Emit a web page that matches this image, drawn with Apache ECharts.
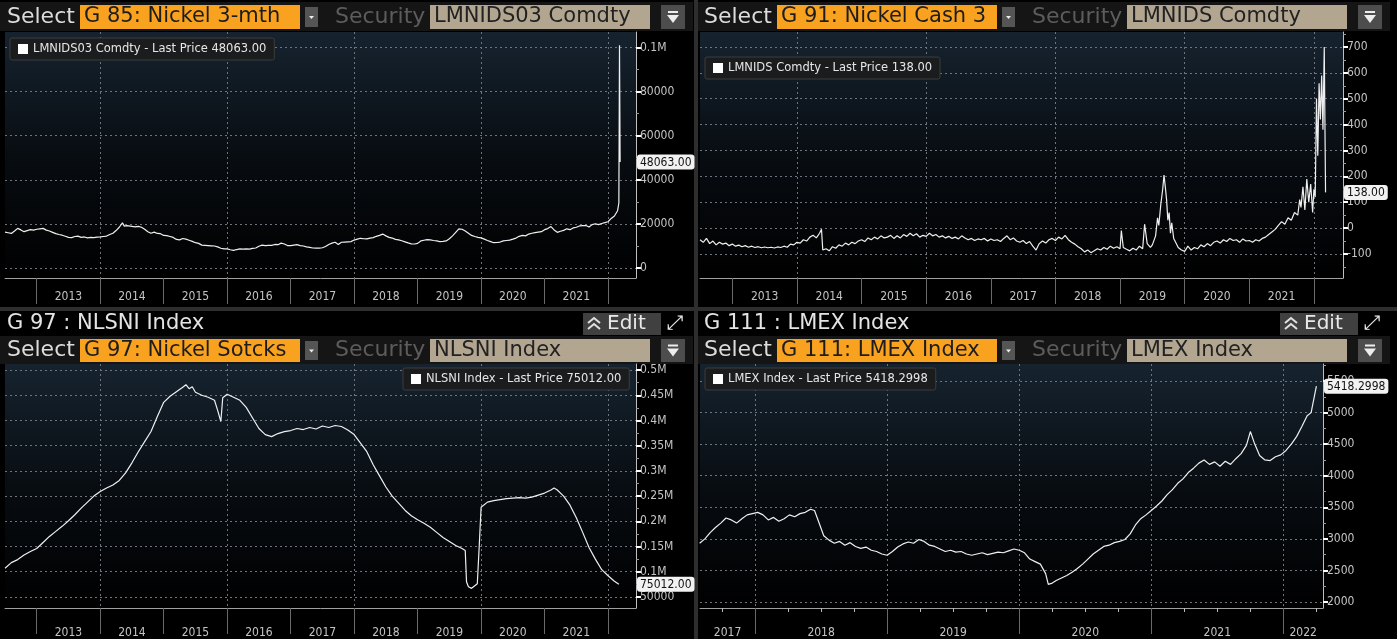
<!DOCTYPE html>
<html>
<head>
<meta charset="utf-8">
<script src="https://cdn.jsdelivr.net/npm/echarts@6/dist/echarts.min.js"></script>
<style>
html, body { margin: 0; padding: 0; background: #000; }
#chart { width: 1397px; height: 639px; }
</style>
</head>
<body>
<div id="chart"></div>
<script>
// 数据 (decimal year, value)
const nickel3mth = [
  [2012.50,16300],[2012.55,16000],[2012.60,15700],[2012.65,16800],[2012.70,18000],[2012.75,17300],[2012.80,16500],[2012.85,17000],
  [2012.90,17400],[2012.95,17200],[2013.00,17600],[2013.05,17800],[2013.10,18000],[2013.15,17200],[2013.20,16800],[2013.25,16200],
  [2013.30,15600],[2013.35,15200],[2013.40,14900],[2013.45,14400],[2013.50,13900],[2013.55,13800],[2013.60,14300],[2013.65,14500],
  [2013.70,13900],[2013.75,14100],[2013.80,13700],[2013.85,13900],[2013.90,13800],[2013.95,14000],[2014.00,14100],[2014.05,14300],
  [2014.10,14500],[2014.15,15200],[2014.20,15800],[2014.25,17000],[2014.30,18500],[2014.35,20500],[2014.38,19000],[2014.42,19200],
  [2014.45,18800],[2014.50,18900],[2014.55,18700],[2014.60,18900],[2014.65,18500],[2014.70,17600],[2014.75,16500],[2014.80,15800],
  [2014.85,16300],[2014.90,15700],[2014.95,15600],[2015.00,14800],[2015.05,14700],[2015.10,14300],[2015.15,13900],[2015.20,13000],
  [2015.25,12800],[2015.30,13400],[2015.35,13100],[2015.40,12600],[2015.45,12100],[2015.50,11500],[2015.55,11200],[2015.60,10400],
  [2015.65,10300],[2015.70,10200],[2015.75,10100],[2015.80,10000],[2015.85,9600],[2015.90,9000],[2015.95,8700],[2016.00,8700],
  [2016.05,8300],[2016.10,8000],[2016.15,8400],[2016.20,8700],[2016.25,8600],[2016.30,8700],[2016.35,8600],[2016.40,8900],
  [2016.45,9100],[2016.50,9900],[2016.55,10400],[2016.60,10200],[2016.65,10300],[2016.70,10300],[2016.75,10700],[2016.80,10600],
  [2016.85,11300],[2016.90,10900],[2016.95,10200],[2017.00,10200],[2017.05,10400],[2017.10,10600],[2017.15,10200],[2017.20,10000],
  [2017.25,9600],[2017.30,9400],[2017.35,9100],[2017.40,9000],[2017.45,9000],[2017.50,9200],[2017.55,9800],[2017.60,10700],
  [2017.65,11300],[2017.70,11700],[2017.75,10700],[2017.80,11700],[2017.85,11800],[2017.90,11900],[2017.95,12000],[2018.00,12700],
  [2018.05,13100],[2018.10,13500],[2018.15,13300],[2018.20,13200],[2018.25,13600],[2018.30,13800],[2018.35,14400],[2018.40,14800],
  [2018.45,15400],[2018.50,14600],[2018.55,13900],[2018.60,13600],[2018.65,13000],[2018.70,12800],[2018.75,12400],[2018.80,11900],
  [2018.85,11400],[2018.90,11000],[2018.95,10900],[2019.00,11200],[2019.05,12300],[2019.10,12600],[2019.15,12900],[2019.20,12800],
  [2019.25,12500],[2019.30,12300],[2019.35,12000],[2019.40,12100],[2019.45,12300],[2019.50,13300],[2019.55,14600],[2019.60,16200],
  [2019.65,17800],[2019.70,17600],[2019.75,16800],[2019.80,15800],[2019.85,14800],[2019.90,14300],[2019.95,13900],[2020.00,13700],
  [2020.05,13100],[2020.10,12500],[2020.15,12000],[2020.20,11500],[2020.25,11600],[2020.30,11800],[2020.35,12300],[2020.40,12500],
  [2020.45,12700],[2020.50,13100],[2020.55,13600],[2020.60,14400],[2020.65,14800],[2020.70,14600],[2020.75,15400],[2020.80,15800],
  [2020.85,16100],[2020.90,16300],[2020.95,16500],[2021.00,17400],[2021.05,17900],[2021.10,18800],[2021.15,17300],[2021.20,16200],
  [2021.25,16700],[2021.30,17100],[2021.35,17800],[2021.40,17400],[2021.45,18200],[2021.50,18500],[2021.55,19100],[2021.60,19200],
  [2021.65,19300],[2021.70,18600],[2021.75,19700],[2021.80,20100],[2021.85,19700],[2021.90,20200],[2021.95,20600],[2022.00,21000],
  [2022.05,22500],[2022.10,23600],[2022.13,24000],[2022.15,26000],[2022.17,29500],[2022.18,101000],[2022.19,48063]
];

const nickelCash3m = [
  [2012.50,-45],[2012.55,-55],[2012.60,-40],[2012.65,-60],[2012.70,-50],[2012.75,-65],[2012.80,-55],[2012.85,-62],
  [2012.90,-58],[2012.95,-68],[2013.00,-62],[2013.05,-70],[2013.10,-66],[2013.15,-72],[2013.20,-68],[2013.25,-74],
  [2013.30,-70],[2013.35,-75],[2013.40,-72],[2013.45,-76],[2013.50,-73],[2013.55,-76],[2013.60,-74],[2013.65,-77],
  [2013.70,-73],[2013.75,-75],[2013.80,-70],[2013.85,-74],[2013.90,-62],[2013.95,-65],[2014.00,-55],[2014.05,-58],
  [2014.10,-45],[2014.15,-50],[2014.20,-35],[2014.25,-28],[2014.30,-38],[2014.35,-20],[2014.38,-5],[2014.40,-85],
  [2014.45,-80],[2014.50,-88],[2014.55,-72],[2014.60,-78],[2014.65,-65],[2014.70,-70],[2014.75,-58],[2014.80,-65],
  [2014.85,-55],[2014.90,-60],[2014.95,-50],[2015.00,-45],[2015.05,-52],[2015.10,-38],[2015.15,-45],[2015.20,-35],
  [2015.25,-42],[2015.30,-30],[2015.35,-38],[2015.40,-35],[2015.45,-28],[2015.50,-40],[2015.55,-30],[2015.60,-38],
  [2015.65,-25],[2015.70,-32],[2015.75,-20],[2015.80,-30],[2015.85,-22],[2015.90,-35],[2015.95,-28],[2016.00,-32],
  [2016.05,-20],[2016.10,-30],[2016.15,-25],[2016.20,-35],[2016.25,-30],[2016.30,-38],[2016.35,-32],[2016.40,-40],
  [2016.45,-35],[2016.50,-42],[2016.55,-30],[2016.60,-38],[2016.65,-45],[2016.70,-40],[2016.75,-48],[2016.80,-42],
  [2016.85,-45],[2016.90,-40],[2016.95,-50],[2017.00,-42],[2017.05,-48],[2017.10,-45],[2017.15,-52],[2017.20,-40],
  [2017.25,-30],[2017.30,-45],[2017.35,-38],[2017.40,-50],[2017.45,-55],[2017.50,-48],[2017.55,-60],[2017.60,-52],
  [2017.65,-70],[2017.70,-85],[2017.75,-60],[2017.80,-50],[2017.85,-58],[2017.90,-45],[2017.95,-40],[2018.00,-48],
  [2018.05,-35],[2018.10,-42],[2018.15,-28],[2018.20,-45],[2018.25,-55],[2018.30,-62],[2018.35,-72],[2018.40,-80],
  [2018.45,-92],[2018.50,-85],[2018.55,-95],[2018.60,-88],[2018.65,-80],[2018.70,-85],[2018.75,-75],[2018.80,-82],
  [2018.85,-70],[2018.90,-78],[2018.95,-72],[2019.00,-80],[2019.02,-10],[2019.05,-75],[2019.10,-82],[2019.15,-88],
  [2019.20,-78],[2019.25,-85],[2019.30,-70],[2019.35,-80],[2019.38,15],[2019.42,-60],[2019.47,-75],[2019.50,-65],
  [2019.55,-30],[2019.58,40],[2019.60,10],[2019.63,90],[2019.66,150],[2019.68,205],[2019.70,160],[2019.72,110],
  [2019.74,30],[2019.76,60],[2019.78,-20],[2019.80,20],[2019.83,-40],[2019.86,-55],[2019.90,-75],[2019.95,-85],
  [2020.00,-90],[2020.05,-70],[2020.10,-85],[2020.15,-75],[2020.20,-80],[2020.25,-65],[2020.30,-72],[2020.35,-60],
  [2020.40,-68],[2020.45,-55],[2020.50,-50],[2020.55,-58],[2020.60,-45],[2020.65,-52],[2020.70,-40],[2020.75,-48],
  [2020.80,-45],[2020.85,-55],[2020.90,-42],[2020.95,-50],[2021.00,-48],[2021.05,-55],[2021.10,-45],[2021.15,-50],
  [2021.20,-40],[2021.25,-35],[2021.30,-25],[2021.35,-15],[2021.40,-5],[2021.45,10],[2021.50,25],[2021.55,15],
  [2021.60,40],[2021.65,30],[2021.70,60],[2021.75,50],[2021.78,110],[2021.80,80],[2021.83,160],[2021.86,70],
  [2021.89,190],[2021.92,100],[2021.95,170],[2021.98,60],[2022.00,150],[2022.02,120],[2022.04,500],[2022.06,280],
  [2022.08,560],[2022.10,420],[2022.12,590],[2022.14,380],[2022.16,700],[2022.18,138]
];

const nickelStocks = [
  [2012.50,107000],[2012.60,118000],[2012.70,124000],[2012.80,133000],[2012.90,140000],[2013.00,146000],[2013.10,158000],
  [2013.20,170000],[2013.30,180000],[2013.40,190000],[2013.50,201000],[2013.60,213000],[2013.70,226000],[2013.80,238000],
  [2013.90,250000],[2014.00,259000],[2014.10,266000],[2014.20,272000],[2014.30,281000],[2014.40,296000],[2014.50,316000],
  [2014.60,338000],[2014.70,358000],[2014.80,378000],[2014.90,408000],[2015.00,436000],[2015.10,448000],[2015.20,457000],
  [2015.30,466000],[2015.35,471000],[2015.40,463000],[2015.45,467000],[2015.50,456000],[2015.60,450000],[2015.70,446000],
  [2015.80,440000],[2015.85,420000],[2015.90,398000],[2015.93,445000],[2016.00,452000],[2016.10,446000],[2016.20,440000],
  [2016.30,426000],[2016.40,405000],[2016.50,384000],[2016.60,372000],[2016.70,368000],[2016.80,374000],[2016.90,378000],
  [2017.00,380000],[2017.10,384000],[2017.20,382000],[2017.30,386000],[2017.40,383000],[2017.50,389000],[2017.60,386000],
  [2017.70,390000],[2017.80,388000],[2017.90,381000],[2018.00,372000],[2018.10,355000],[2018.20,338000],[2018.30,312000],
  [2018.40,290000],[2018.50,268000],[2018.60,250000],[2018.70,236000],[2018.80,222000],[2018.90,211000],[2019.00,203000],
  [2019.10,196000],[2019.20,188000],[2019.30,178000],[2019.40,168000],[2019.50,160000],[2019.60,152000],[2019.70,146000],
  [2019.75,142000],[2019.77,80000],[2019.80,70000],[2019.85,67000],[2019.90,72000],[2019.94,76000],[2019.97,150000],
  [2020.00,228000],[2020.10,238000],[2020.20,241000],[2020.30,243000],[2020.40,245000],[2020.50,246000],[2020.60,247000],
  [2020.70,246000],[2020.80,248000],[2020.90,252000],[2021.00,256000],[2021.10,262000],[2021.15,266000],[2021.20,262000],
  [2021.30,250000],[2021.40,232000],[2021.50,207000],[2021.60,178000],[2021.70,148000],[2021.80,125000],[2021.90,104000],
  [2022.00,92000],[2022.10,81000],[2022.17,75012]
];

const lmexIndex = [
  [2017.58,2930],[2017.62,3000],[2017.66,3100],[2017.70,3180],[2017.74,3250],[2017.78,3330],[2017.82,3300],[2017.86,3250],
  [2017.90,3320],[2017.94,3380],[2017.98,3400],[2018.02,3420],[2018.06,3380],[2018.10,3300],[2018.14,3340],[2018.18,3280],
  [2018.22,3320],[2018.26,3380],[2018.30,3350],[2018.34,3400],[2018.38,3420],[2018.42,3470],[2018.45,3450],[2018.48,3280],
  [2018.52,3050],[2018.56,2980],[2018.60,2930],[2018.64,2960],[2018.68,2900],[2018.72,2940],[2018.76,2880],[2018.80,2850],
  [2018.84,2870],[2018.88,2820],[2018.92,2800],[2018.96,2760],[2019.00,2740],[2019.04,2800],[2019.08,2870],[2019.12,2920],
  [2019.16,2950],[2019.20,2930],[2019.24,2990],[2019.28,2960],[2019.32,2900],[2019.36,2880],[2019.40,2840],[2019.44,2800],
  [2019.48,2820],[2019.52,2790],[2019.56,2800],[2019.60,2760],[2019.64,2740],[2019.68,2760],[2019.72,2780],[2019.76,2750],
  [2019.80,2770],[2019.84,2790],[2019.88,2780],[2019.92,2810],[2019.96,2840],[2020.00,2820],[2020.04,2780],[2020.08,2680],
  [2020.12,2640],[2020.16,2600],[2020.20,2450],[2020.22,2280],[2020.25,2300],[2020.28,2340],[2020.32,2380],[2020.36,2420],
  [2020.40,2470],[2020.44,2530],[2020.48,2600],[2020.52,2680],[2020.56,2760],[2020.60,2820],[2020.64,2880],[2020.68,2900],
  [2020.72,2940],[2020.76,2960],[2020.80,2990],[2020.84,3080],[2020.88,3220],[2020.92,3320],[2020.96,3380],[2021.00,3450],
  [2021.04,3520],[2021.08,3600],[2021.12,3700],[2021.16,3780],[2021.20,3880],[2021.24,3950],[2021.28,4050],[2021.32,4120],
  [2021.36,4200],[2021.40,4250],[2021.44,4180],[2021.48,4220],[2021.52,4150],[2021.56,4230],[2021.60,4180],[2021.64,4270],
  [2021.68,4350],[2021.72,4480],[2021.75,4700],[2021.78,4520],[2021.82,4320],[2021.86,4250],[2021.90,4240],[2021.94,4300],
  [2021.98,4330],[2022.02,4400],[2022.06,4500],[2022.10,4620],[2022.14,4780],[2022.18,4950],[2022.21,5000],[2022.25,5418.2998]
];

// 轴标签
const yearsLong = [2013, 2014, 2015, 2016, 2017, 2018, 2019, 2020, 2021];
const yearsShort = [2017, 2018, 2019, 2020, 2021, 2022];
const gridYearsLong = [2014, 2016, 2018, 2020, 2022];
const gridYearsShort = [2018, 2019, 2020, 2021, 2022];
const ticksNickel3m = [0, 20000, 40000, 60000, 80000, 100000];
const ticksCash3m = [-100, 0, 100, 200, 300, 400, 500, 600, 700];
const ticksStocks = [50000, 100000, 150000, 200000, 250000, 300000, 350000, 400000, 450000, 500000];
const ticksLmex = [2000, 2500, 3000, 3500, 4000, 4500, 5000, 5500];

const FONT = "'DejaVu Sans', sans-serif";
const FONT_SMALL = "'DejaVu Sans Condensed', 'DejaVu Sans', sans-serif";

function mFormat(v) {
    return v >= 100000 ? (v / 1e6) + 'M' : String(v);
}

const panels = [
    {
        name: 'LMNIDS03 Comdty', data: nickel3mth, lastText: '48063.00',
        grid: { left: 5, top: 32, width: 631, height: 246 },
        xMin: 2012.5, xMax: 2022.44, years: yearsLong, gridYears: gridYearsLong, xMargin: 13, minorX: false,
        yMin: -4500, yMax: 107000, yTicks: ticksNickel3m, ySplit: 6, fmt: mFormat,
        legend: { left: 10, top: 38 }
    },
    {
        name: 'LMNIDS Comdty', data: nickelCash3m, lastText: '138.00',
        grid: { left: 700, top: 32, width: 643, height: 246 },
        xMin: 2012.5, xMax: 2022.45, years: yearsLong, gridYears: gridYearsLong, xMargin: 13, minorX: false,
        yMin: -193, yMax: 758, yTicks: ticksCash3m, ySplit: 10, fmt: v => String(v),
        legend: { left: 705, top: 57 }
    },
    {
        name: 'NLSNI Index', data: nickelStocks, lastText: '75012.00',
        grid: { left: 5, top: 364, width: 631, height: 244 },
        xMin: 2012.5, xMax: 2022.44, years: yearsLong, gridYears: gridYearsLong, xMargin: 19, minorX: false,
        yMin: 28000, yMax: 512000, yTicks: ticksStocks, ySplit: 10, fmt: mFormat,
        legend: { left: 403, top: 368 }
    },
    {
        name: 'LMEX Index', data: lmexIndex, lastText: '5418.2998',
        grid: { left: 700, top: 364, width: 623, height: 244 },
        xMin: 2017.583, xMax: 2022.3, years: yearsShort, gridYears: gridYearsShort, xMargin: 19, minorX: true,
        yMin: 1905, yMax: 5770, yTicks: ticksLmex, ySplit: 8, fmt: v => String(v),
        legend: { left: 705, top: 368 }
    }
];

const plotBg = new echarts.graphic.LinearGradient(0, 0, 0, 1, [
    { offset: 0, color: '#16232f' },
    { offset: 0.5, color: '#080d12' },
    { offset: 1, color: '#000000' }
]);

const grids = [], xAxes = [], yAxes = [], series = [], legends = [];

panels.forEach((p, i) => {
    grids.push(Object.assign({ show: true, borderWidth: 0, backgroundColor: plotBg, containLabel: false }, p.grid));

    const starts = p.years.concat([p.years[p.years.length - 1] + 1]).filter(y => y > p.xMin && y <= p.xMax);
    const mids = p.years.map(y => (Math.max(y, p.xMin) + Math.min(y + 1, p.xMax)) / 2);

    // 主X轴: 年份分隔 + 标签
    xAxes.push({
        gridIndex: i, type: 'value', position: 'bottom', min: p.xMin, max: p.xMax,
        axisLine: { show: true, onZero: false, lineStyle: { color: '#a0a0a0', width: 1 } },
        axisTick: { show: true, customValues: starts, length: 26, inside: false, lineStyle: { color: '#6a6a6a', width: 1 } },
        minorTick: { show: p.minorX, splitNumber: 4, length: 4, lineStyle: { color: '#bdbdbd', width: 1 } },
        axisLabel: {
            show: true, customValues: mids, margin: p.xMargin, color: '#c4c4c4',
            fontSize: 12, fontFamily: FONT_SMALL, formatter: v => String(Math.floor(v))
        },
        splitLine: { show: false }
    });
    // 网格竖线
    xAxes.push({
        gridIndex: i, type: 'value', position: 'top', min: p.xMin, max: p.xMax,
        axisLine: { show: false }, axisLabel: { show: false },
        axisTick: { show: false, customValues: p.gridYears },
        splitLine: { show: true, lineStyle: { color: '#6e747b', type: [2, 3], width: 1 } }
    });

    const last = p.data[p.data.length - 1][1];
    yAxes.push({
        gridIndex: i, type: 'value', position: 'right', min: p.yMin, max: p.yMax, splitNumber: p.ySplit,
        axisLine: { show: true, onZero: false, lineStyle: { color: '#bfbfbf', width: 1 } },
        axisTick: { show: true, customValues: p.yTicks, length: 5, lineStyle: { color: '#ffffff', width: 2 } },
        minorTick: { show: true, splitNumber: 2, length: 3, lineStyle: { color: '#9a9a9a', width: 1 } },
        axisLabel: {
            show: true, customValues: p.yTicks, margin: 4, color: '#c4c4c4',
            fontSize: 12, fontFamily: FONT_SMALL, formatter: p.fmt
        },
        splitLine: { show: true, lineStyle: { color: '#6e747b', type: [2, 3], width: 1 } },
        axisPointer: {
            show: true, type: 'none', value: last, status: 'show', triggerTooltip: false, triggerEmphasis: false,
            label: {
                show: true, formatter: () => p.lastText, backgroundColor: '#f2f2f2', color: '#111',
                fontSize: 12, fontFamily: FONT_SMALL, padding: [2, 3, 1, 3], borderRadius: 3, margin: 1
            }
        }
    });

    series.push({
        name: p.name, type: 'line', xAxisIndex: i * 2, yAxisIndex: i,
        data: p.data, showSymbol: false, symbol: 'none', clip: true,
        lineStyle: { color: '#efefef', width: 1.2 }, itemStyle: { color: '#ffffff' }
    });

    legends.push({
        data: [p.name], left: p.legend.left, top: p.legend.top, selectedMode: false,
        icon: 'rect', itemWidth: 10, itemHeight: 10, itemGap: 4,
        backgroundColor: '#1b1c1e', borderColor: '#3c3c3c', borderWidth: 1, borderRadius: 2,
        padding: [5, 8, 5, 8],
        formatter: name => name + ' - Last Price ' + p.lastText,
        textStyle: { color: '#e6e6e6', fontSize: 11.5, fontFamily: FONT }
    });
});

// 头部控件
function selectBar(x0, y0, h, orangeText, secText) {
    const cy = y0 + h / 2;
    return [
        { type: 'rect', shape: { x: x0, y: y0 - 3, width: 693, height: h + 5 }, style: { fill: '#151515' } },
        { type: 'text', x: x0 + 7, y: cy, style: { text: 'Select', fill: '#dcdcdc', font: '22px ' + FONT, verticalAlign: 'middle' } },
        { type: 'rect', shape: { x: x0 + 80, y: y0, width: 220, height: h }, style: { fill: '#f9a220' } },
        { type: 'text', x: x0 + 84, y: cy, style: { text: orangeText, fill: '#1d1d1d', font: '21px ' + FONT, verticalAlign: 'middle' } },
        { type: 'rect', shape: { x: x0 + 305, y: y0 + 2, width: 13, height: h - 4 }, style: { fill: '#555555' } },
        { type: 'polygon', shape: { points: [[x0 + 309, cy - 1], [x0 + 314, cy - 1], [x0 + 311.5, cy + 2]] }, style: { fill: '#eeeeee' } },
        { type: 'text', x: x0 + 335, y: cy, style: { text: 'Security', fill: '#5c5c5c', font: '22px ' + FONT, verticalAlign: 'middle' } },
        { type: 'rect', shape: { x: x0 + 430, y: y0, width: 220, height: h }, style: { fill: '#b3a691' } },
        { type: 'text', x: x0 + 434, y: cy, style: { text: secText, fill: '#222222', font: '21px ' + FONT, verticalAlign: 'middle' } },
        { type: 'rect', shape: { x: x0 + 661, y: y0, width: 24, height: h }, style: { fill: '#4d4d4d' } },
        { type: 'rect', shape: { x: x0 + 668, y: cy - 6, width: 10, height: 2 }, style: { fill: '#eeeeee' } },
        { type: 'polygon', shape: { points: [[x0 + 667, cy - 2], [x0 + 679, cy - 2], [x0 + 673, cy + 6]] }, style: { fill: '#eeeeee' } }
    ];
}

function titleBar(x0, y0, title) {
    const cy = y0 + 11;
    return [
        { type: 'text', x: x0 + 7, y: cy, style: { text: title, fill: '#e4e4e4', font: '21px ' + FONT, verticalAlign: 'middle' } },
        { type: 'rect', shape: { x: x0 + 583, y: y0, width: 78, height: 22 }, style: { fill: '#404040' } },
        { type: 'polyline', shape: { points: [[x0 + 588, cy - 1], [x0 + 594, cy - 6], [x0 + 600, cy - 1]] }, style: { stroke: '#e0e0e0', lineWidth: 2, fill: null } },
        { type: 'polyline', shape: { points: [[x0 + 588, cy + 5], [x0 + 594, cy], [x0 + 600, cy + 5]] }, style: { stroke: '#e0e0e0', lineWidth: 2, fill: null } },
        { type: 'text', x: x0 + 607, y: cy, style: { text: 'Edit', fill: '#e8e8e8', font: '20px ' + FONT, verticalAlign: 'middle' } },
        { type: 'text', x: x0 + 667, y: cy, style: { text: '⤢', fill: '#e8e8e8', font: '20px ' + FONT, verticalAlign: 'middle' } }
    ];
}

const graphics = [].concat(
    selectBar(0, 5, 24, 'G 85: Nickel 3-mth', 'LMNIDS03 Comdty'),
    selectBar(697, 5, 24, 'G 91: Nickel Cash 3', 'LMNIDS Comdty'),
    titleBar(0, 313, 'G 97 : NLSNI Index'),
    titleBar(697, 313, 'G 111 : LMEX Index'),
    selectBar(0, 339, 23, 'G 97: Nickel Sotcks', 'NLSNI Index'),
    selectBar(697, 339, 23, 'G 111: LMEX Index', 'LMEX Index'),
    [
        { type: 'rect', shape: { x: 694, y: 0, width: 4, height: 639 }, style: { fill: '#2e2e2e' } },
        { type: 'rect', shape: { x: 0, y: 307, width: 1397, height: 4 }, style: { fill: '#2e2e2e' } }
    ]
);

function initChart() {
    const chart = echarts.init(document.getElementById('chart'));
    chart.setOption({
        animation: false,
        backgroundColor: '#000000',
        grid: grids,
        xAxis: xAxes,
        yAxis: yAxes,
        legend: legends,
        series: series,
        graphic: graphics
    });
}

document.addEventListener('DOMContentLoaded', initChart);
</script>
</body>
</html>
